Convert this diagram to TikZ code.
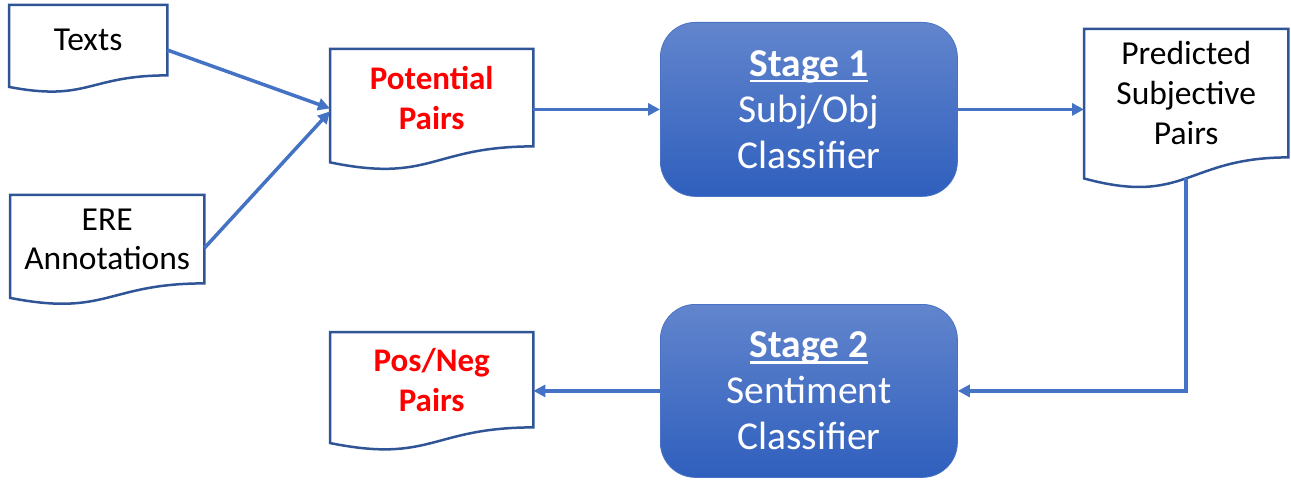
\documentclass[tikz,border=0pt]{standalone}
\usepackage{fontspec}
\setmainfont{Carlito}
\usetikzlibrary{calc,arrows.meta}
\definecolor{docblue}{HTML}{2F5597}
\definecolor{arrblue}{HTML}{4472C4}
\definecolor{stagetop}{HTML}{6285CD}
\definecolor{stagebot}{HTML}{2F5FBD}
\definecolor{stageedge}{HTML}{4A72C2}
\newcommand\docoutline[2]{%
  \draw[docline] (#1.north west) -- (#1.north east) -- (#1.south east)
    .. controls (#1.south) and ($(#1.south)+(0,0.381*#2)$) ..
    ($(#1.south west)+(0,0.1646*#2)$) -- cycle;}
\newcommand\stageul[1]{\setbox0\hbox{#1}\rlap{\raisebox{-6pt}{\rule{\wd0}{2.5pt}}}\box0}
\begin{document}
\begin{tikzpicture}[x=1pt,y=-1pt,
  doc/.style={anchor=north west, inner sep=0pt, align=center, font=\fontsize{33.5}{39}\selectfont},
  docred/.style={doc, text=red, font=\fontsize{33}{40}\selectfont\bfseries},
  docline/.style={draw=docblue, line width=2.5pt, line join=miter},
  stagebox/.style={anchor=north west, minimum width=297pt, minimum height=174pt,
    rounded corners=35pt, top color=stagetop, bottom color=stagebot, draw=stageedge,
    line width=0.8pt, text=white, align=center, inner sep=0pt,
    font=\fontsize{39.5}{46}\selectfont},
  conn/.style={draw=arrblue, line width=3.5pt, -{Triangle[length=12pt,width=12pt]}}]
\useasboundingbox (0,0) rectangle (1291,481);

\node[doc, minimum width=158pt, minimum height=70pt] (texts) at (9,5) {Texts};
\node[doc, minimum width=194pt, minimum height=88pt] (ere) at (10,195) {ERE\\Annotations};
\node[docred, minimum width=203pt, minimum height=97pt] (pot) at (330,49) {Potential\\Pairs};
\node[stagebox] (s1) at (660,22) {\bfseries\stageul{Stage 1}\\Subj/Obj\\Classifier};
\node[doc, font=\fontsize{33.5}{40}\selectfont, minimum width=204pt, minimum height=128pt] (pred) at (1084,29) {Predicted\\Subjective\\Pairs};
\node[stagebox, minimum height=173pt] (s2) at (660,304) {\bfseries\stageul{Stage 2}\\Sentiment\\Classifier};
\node[docred, minimum width=203pt, minimum height=95pt] (pn) at (330,332) {Pos/Neg\\Pairs};

\docoutline{texts}{70}
\docoutline{ere}{88}
\docoutline{pot}{97}
\docoutline{pred}{128}
\docoutline{pn}{95}

\coordinate (potin1) at ($(pot.north west)!0.61!(pot.south west)$);
\coordinate (potin2) at ($(pot.north west)!0.64!(pot.south west)$);
\draw[conn] ($(texts.north east)!0.64!(texts.south east)$) -- (potin1);
\draw[conn] ($(ere.north east)!0.6!(ere.south east)$) -- (potin2);
\draw[conn] (pot.east |- s1.west) -- (s1.west);
\draw[conn] (s1.east) -- (s1.east -| pred.west);
\coordinate (predout) at ($(pred.south)+(0,21)$);
\draw[conn] (predout) |- (s2.east);
\draw[conn] (s2.west) -- (s2.west -| pn.east);
\end{tikzpicture}
\end{document}
